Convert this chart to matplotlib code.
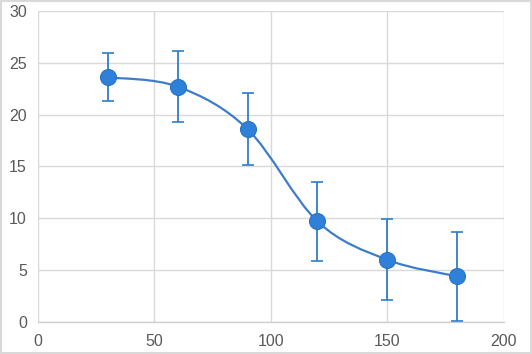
import numpy as np
import matplotlib.pyplot as plt
from matplotlib.path import Path
from matplotlib.patches import PathPatch, Rectangle

# data
x_vals = [30, 60, 90, 120, 150, 180]
y_vals = [23.6, 22.7, 18.6, 9.7, 6.0, 4.4]
y_err = [2.3, 3.45, 3.5, 3.8, 3.9, 4.3]

x_ticks = [0, 50, 100, 150, 200]
y_ticks = [0, 5, 10, 15, 20, 25, 30]

line_color = "#3D7DC8"
marker_color = "#2E80D8"
grid_color = "#D9D9D9"
text_color = "#595959"

fig = plt.figure(figsize=(5.32, 3.54), dpi=100)
ax = fig.add_axes([0.0714, 0.0904, 0.8756, 0.8786])

ax.set_xlim(0, 200)
ax.set_ylim(0, 30)

# smoothed line (Excel-style bezier through the points)
pts = np.column_stack([x_vals, y_vals]).astype(float)
verts = [pts[0]]
codes = [Path.MOVETO]
n = len(pts)
for i in range(n - 1):
    p0 = pts[i - 1] if i > 0 else pts[i]
    p1 = pts[i]
    p2 = pts[i + 1]
    p3 = pts[i + 2] if i + 2 < n else pts[i + 1]
    c1 = p1 + (p2 - p0) / 6.0
    c2 = p2 - (p3 - p1) / 6.0
    verts += [c1, c2, p2]
    codes += [Path.CURVE4] * 3
ax.add_patch(PathPatch(Path(verts, codes), facecolor="none",
                       edgecolor=line_color, linewidth=1.6, zorder=3))

ax.errorbar(x_vals, y_vals, yerr=y_err, fmt="none", ecolor="#2F7DC9",
            elinewidth=1.3, capsize=4, capthick=1.2, zorder=4)

ax.plot(x_vals, y_vals, linestyle="none", marker="o", markersize=11.5,
        markerfacecolor=marker_color, markeredgecolor="#2A74C4",
        markeredgewidth=0.8, zorder=5)

ax.set_xticks(x_ticks)
ax.set_yticks(y_ticks)
ax.grid(True, color=grid_color, linewidth=1.0)
ax.set_axisbelow(True)
for s in ["top", "right", "left"]:
    ax.spines[s].set_visible(False)
ax.spines["bottom"].set_color("#CFCFCF")
ax.spines["bottom"].set_linewidth(1.0)
ax.tick_params(length=0, labelsize=11.5, labelcolor=text_color)
ax.tick_params(axis="x", pad=9)
ax.tick_params(axis="y", pad=8)
for lab in ax.get_xticklabels() + ax.get_yticklabels():
    lab.set_fontfamily("Liberation Sans")

# outer frame
fig.patches.append(Rectangle((0.002, 0.003), 0.996, 0.994, transform=fig.transFigure,
                             fill=False, edgecolor="#D9D9D9", linewidth=1.5))

fig.savefig("out.png", dpi=100)
